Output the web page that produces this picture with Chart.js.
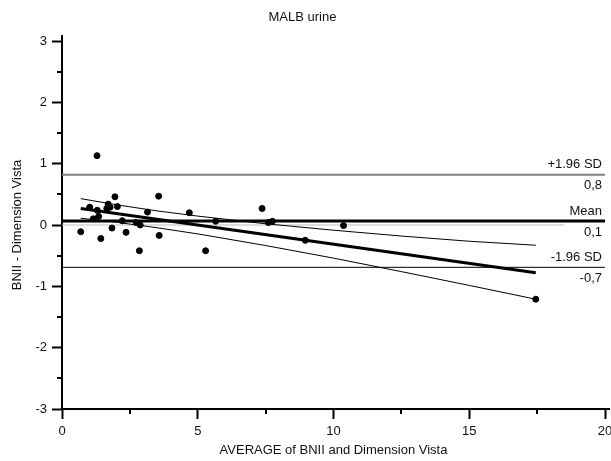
<!DOCTYPE html>
<html>
<head>
<meta charset="utf-8">
<script src="https://cdn.jsdelivr.net/npm/chart.js@4/dist/chart.umd.min.js"></script>
<style>
  html, body { margin: 0; padding: 0; background: #fff; }
  #wrap { width: 611px; height: 461px; }
</style>
</head>
<body>
<div id="wrap"><canvas id="chart" width="611" height="461"></canvas></div>
<script>
// averages (x) and differences (y)
const avgValues = [0.69, 1.02, 1.15, 1.29, 1.30, 1.35, 1.43, 1.65, 1.70, 1.77,
                   1.84, 1.95, 2.04, 2.22, 2.36, 2.73, 2.88, 2.85, 3.15, 3.56,
                   3.58, 4.69, 5.29, 5.66, 7.37, 7.60, 7.75, 8.96, 10.37, 17.45];
const diffValues = [-0.11, 0.29, 0.10, 1.13, 0.24, 0.14, -0.22, 0.27, 0.34, 0.29,
                    -0.05, 0.46, 0.30, 0.07, -0.12, 0.04, 0.00, -0.42, 0.21, 0.47,
                    -0.17, 0.20, -0.42, 0.06, 0.27, 0.04, 0.06, -0.25, -0.01, -1.21];

// regression line and its confidence band
const regX = [0.69, 17.45];
const regY = [0.27, -0.78];
const bandX = [0.69, 2, 3.5, 5, 7.5, 10, 12.5, 15, 17.45];
const bandUpper = [0.43, 0.33, 0.23, 0.145, 0.02, -0.085, -0.18, -0.265, -0.33];
const bandLower = [0.11, 0.045, -0.045, -0.145, -0.335, -0.54, -0.76, -0.985, -1.21];

// mean and limits of agreement
const meanDiff = 0.065;
const upperLimit = 0.82;
const lowerLimit = -0.69;
const limitNames = ['+1.96 SD', 'Mean', '-1.96 SD'];
const limitTexts = ['0,8', '0,1', '-0,7'];
const zeroLineX = [0, 18.5];
const rangeX = [0, 20];

const xTickLabels = [0, 5, 10, 15, 20];
const yTickLabels = [-3, -2, -1, 0, 1, 2, 3];

const FONT = "'Liberation Sans', Arial, Helvetica, sans-serif";

function pts(xs, ys) {
    return xs.map((x, i) => ({ x: x, y: ys[i] }));
}
function hline(xs, y) {
    return xs.map(x => ({ x: x, y: y }));
}

function lineSet(data, color, width, order) {
    return {
        type: 'line',
        data: data,
        borderColor: color,
        borderWidth: width,
        pointRadius: 0,
        fill: false,
        tension: 0,
        order: order
    };
}

// minor ticks (half-length), axis overhang and the labels right of the limit lines
const extrasPlugin = {
    id: 'extras',
    afterDraw(chart) {
        const ctx = chart.ctx;
        const xs = chart.scales.x;
        const ys = chart.scales.y;
        const area = chart.chartArea;
        ctx.save();
        ctx.strokeStyle = '#000';
        ctx.lineWidth = 2;
        ys.ticks.forEach(t => {
            if (yTickLabels.includes(t.value)) return;
            const py = Math.round(ys.getPixelForValue(t.value));
            ctx.beginPath();
            ctx.moveTo(area.left - 5, py);
            ctx.lineTo(area.left, py);
            ctx.stroke();
        });
        xs.ticks.forEach(t => {
            if (xTickLabels.includes(t.value)) return;
            const px = Math.round(xs.getPixelForValue(t.value));
            ctx.beginPath();
            ctx.moveTo(px, area.bottom);
            ctx.lineTo(px, area.bottom + 5);
            ctx.stroke();
        });
        // axes run a little past the last tick
        ctx.beginPath();
        ctx.moveTo(area.left, area.top);
        ctx.lineTo(area.left, area.top - 6);
        ctx.moveTo(area.right, area.bottom);
        ctx.lineTo(area.right + 5, area.bottom);
        ctx.stroke();

        ctx.fillStyle = '#111';
        ctx.font = '13px ' + FONT;
        ctx.textAlign = 'right';
        ctx.textBaseline = 'middle';
        const right = area.right - 3;
        [upperLimit, meanDiff, lowerLimit].forEach((v, i) => {
            const py = ys.getPixelForValue(v);
            ctx.fillText(limitNames[i], right, py - 10);
            ctx.fillText(limitTexts[i], right, py + 11);
        });
        ctx.restore();
    }
};

const ctx = document.getElementById('chart').getContext('2d');
new Chart(ctx, {
    type: 'scatter',
    data: {
        datasets: [
            {
                data: pts(avgValues, diffValues),
                backgroundColor: '#000',
                borderColor: '#000',
                pointRadius: 3,
                pointHoverRadius: 3,
                order: 0
            },
            lineSet(hline(zeroLineX, 0), '#bdbdbd', 1, 5),
            lineSet(hline(rangeX, upperLimit), '#808080', 2, 4),
            lineSet(hline(rangeX, lowerLimit), '#000', 1, 4),
            lineSet(hline(rangeX, meanDiff), '#000', 3, 3),
            lineSet(pts(bandX, bandUpper), '#000', 1, 2),
            lineSet(pts(bandX, bandLower), '#000', 1, 2),
            lineSet(pts(regX, regY), '#000', 3, 1)
        ]
    },
    options: {
        responsive: false,
        animation: false,
        layout: { padding: { left: 0, right: 6, top: 0, bottom: 0 } },
        plugins: {
            legend: { display: false },
            tooltip: { enabled: false },
            title: {
                display: true,
                text: 'MALB urine',
                color: '#111',
                font: { family: FONT, size: 13, weight: 'normal' },
                padding: { top: 10, bottom: 15.4 }
            }
        },
        scales: {
            x: {
                type: 'linear',
                min: 0,
                max: 20,
                afterFit(scale) {
                    scale.height = 52;
                    scale.paddingLeft = 0;
                    scale.paddingRight = 0;
                },
                border: { display: true, color: '#000', width: 2 },
                grid: {
                    display: true,
                    drawOnChartArea: false,
                    drawTicks: true,
                    tickLength: 10,
                    tickWidth: 2,
                    tickColor: c => xTickLabels.includes(c.tick.value) ? '#000' : 'rgba(0,0,0,0)'
                },
                ticks: {
                    stepSize: 2.5,
                    padding: 5,
                    color: '#111',
                    font: { family: FONT, size: 13 },
                    maxRotation: 0,
                    autoSkip: false,
                    callback: v => xTickLabels.includes(v) ? String(v) : ''
                },
                title: {
                    display: true,
                    text: 'AVERAGE of BNII and Dimension Vista',
                    color: '#111',
                    font: { family: FONT, size: 13 },
                    padding: { top: 0, bottom: 3 }
                }
            },
            y: {
                type: 'linear',
                min: -3,
                max: 3,
                afterFit(scale) { scale.width = 62; },
                border: { display: true, color: '#000', width: 2 },
                grid: {
                    display: true,
                    drawOnChartArea: false,
                    drawTicks: true,
                    tickLength: 10,
                    tickWidth: 2,
                    tickColor: c => yTickLabels.includes(c.tick.value) ? '#000' : 'rgba(0,0,0,0)'
                },
                ticks: {
                    stepSize: 0.5,
                    padding: 5,
                    color: '#111',
                    font: { family: FONT, size: 13 },
                    autoSkip: false,
                    callback: v => yTickLabels.includes(v) ? String(v) : ''
                },
                title: {
                    display: true,
                    text: 'BNII - Dimension Vista',
                    color: '#111',
                    font: { family: FONT, size: 13 },
                    padding: { top: 10, bottom: 0 }
                }
            }
        }
    },
    plugins: [extrasPlugin]
});
</script>
</body>
</html>
